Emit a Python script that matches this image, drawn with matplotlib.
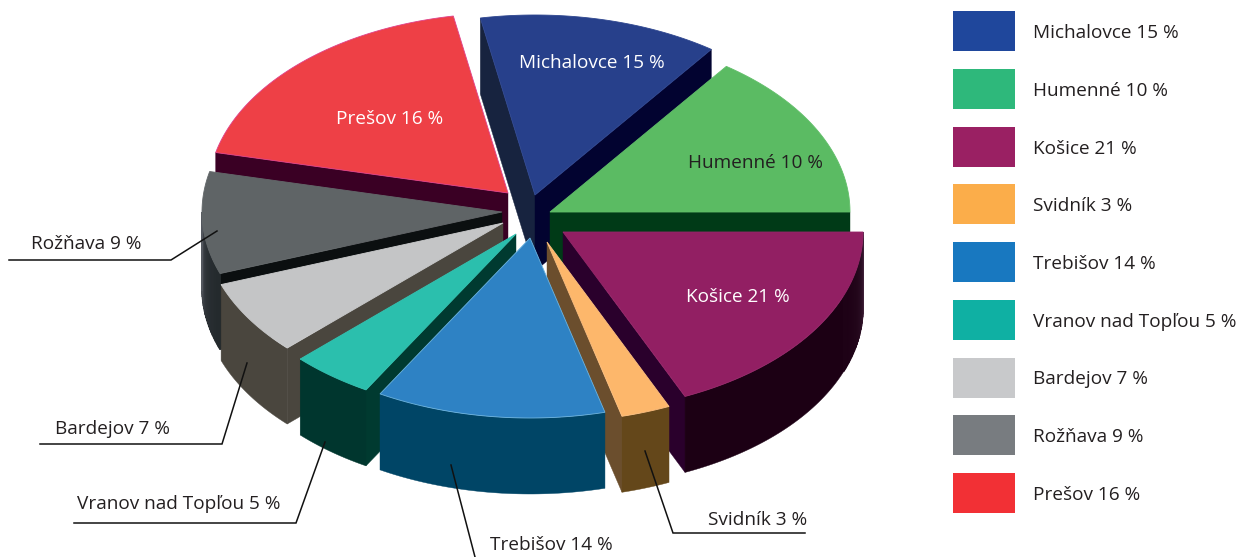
import matplotlib
matplotlib.use('Agg')
import matplotlib.pyplot as plt
from matplotlib.colors import to_rgb
import numpy as np

plt.rcParams['font.family'] = ['Open Sans', 'DejaVu Sans']

# data
names = ['Michalovce', 'Humenné', 'Košice', 'Svidník', 'Trebišov',
         'Vranov nad Topľou', 'Bardejov', 'Rožňava', 'Prešov']
shares = [15, 10, 21, 3, 14, 5, 7, 9, 16]

# colours
legend_colors = ['#1f479c', '#2eb87b', '#9a2063', '#fbad4a', '#1878c0',
                 '#0fb0a3', '#c8c9cb', '#787c80', '#f23035']
top_colors = ['#27408b', '#5bbb63', '#921f63', '#fdb76b', '#2e82c4',
              '#2bbfad', '#c4c5c6', '#5f6466', '#ee4046']
start_walls = ['#17233f', '#003a17', '#2a002c', '#6b4e2d', '#004566',
               '#003a30', '#4a463e', '#0b0f10', '#3a0024']
end_walls = ['#020330', '#003a17', '#2a002c', '#6b4e2d', '#004566',
             '#003a30', '#4a463e', '#0b0f10', '#3a0024']
outer_walls = ['#020330', '#003a17', '#1c0014', '#64471a', '#004566',
               '#00362e', '#4a463e', '#22282b', '#3a0024']
edge_colors = ['#2e468f', '#62bf6a', '#962669', '#fdc080', '#6db4e0',
               '#33c3b2', '#cbcccd', '#63686a', '#e0408a']

# layout, pixels
apex_x = [535, 550, 563, 547, 530, 516, 503, 502, 508]
apex_y = [195, 212, 232, 242, 238, 234, 223, 212, 193]
draw_order = [8, 0, 1, 7, 6, 5, 2, 3, 4]
rx, ry, depth = 300, 180, 76
start_angle = -10.5
# the original's perspective squeezes the angles a bit
warp_in = [-10.5, 43.5, 79.5, 155.1, 216.3, 234.3, 259.5, 291.9, 349.5]
warp_out = [-10.5, 36, 90, 156, 210, 226, 250, 283, 349.5]
font = 13.7


def rim(i, t):
    t = np.radians(t)
    return apex_x[i] + rx*np.sin(t), apex_y[i] - ry*np.cos(t)


def lighter(c, w):
    c = np.array(to_rgb(c))
    return tuple(c + (np.array([0.35, 0.33, 0.36]))*w)


def wall_visible(i, t, sign):
    # radial wall shows when its outward normal points down the page
    x, y = rim(i, t)
    return sign*(x - apex_x[i]) > 0


def radial_wall(ax, i, t, color, z):
    x, y = rim(i, t)
    xs = [apex_x[i], x, x, apex_x[i]]
    ys = [apex_y[i], y, y+depth, apex_y[i]+depth]
    ax.fill(xs, ys, color=color, lw=0.3, zorder=z)


fig = plt.figure(figsize=(12.38, 5.57), dpi=100)
ax = fig.add_axes([0, 0, 1, 1])
ax.set_xlim(0, 1238)
ax.set_ylim(557, 0)
ax.axis('off')

bounds = start_angle + np.cumsum([0] + shares)*3.6
bounds = np.interp(bounds, warp_in, warp_out)

z = 1
for i in draw_order:
    t0, t1 = bounds[i], bounds[i+1]

    # flat side faces
    if wall_visible(i, t0, -1):
        radial_wall(ax, i, t0, start_walls[i], z)
    if wall_visible(i, t1, 1):
        radial_wall(ax, i, t1, end_walls[i], z)
    z += 1

    # curved outer wall, only the front half of the rim
    a0, a1 = max(t0, 90), min(t1, 270)
    if a1 > a0:
        steps = np.linspace(a0, a1, int(a1-a0) + 2)
        x, y = rim(i, steps)
        ax.fill(np.r_[x, x[::-1]], np.r_[y, y[::-1]+depth],
                color=outer_walls[i], lw=0.3, zorder=z)
        z += 1
        # the two dark slices catch some light where the rim turns away
        if i in (2, 7):
            for s0, s1 in zip(steps[:-1], steps[1:]):
                mid = (s0+s1)/2
                w = np.exp(-min(abs(mid-90), abs(mid-270))/6.0)*0.6
                if w < 0.02:
                    continue
                x0, y0 = rim(i, s0)
                x1, y1 = rim(i, s1)
                ax.fill([x0, x1, x1, x0], [y0, y1, y1+depth, y0+depth],
                        color=lighter(outer_walls[i], w), lw=1, zorder=z)
            z += 1

    # top face
    arc = np.linspace(t0, t1, 120)
    x, y = rim(i, arc)
    ax.fill(np.r_[apex_x[i], x], np.r_[apex_y[i], y], facecolor=top_colors[i],
            edgecolor=edge_colors[i], lw=0.6, joinstyle='miter', zorder=z)
    z += 1

# text on the slices
z_text = z + 1
ax.text(592, 63, f'{names[0]} {shares[0]} %', color='white', fontsize=font,
        ha='center', va='center', zorder=z_text)
ax.text(390, 119, f'{names[8]} {shares[8]} %', color='white', fontsize=font,
        ha='center', va='center', zorder=z_text)
ax.text(756, 163, f'{names[1]} {shares[1]} %', color='#231f20', fontsize=font,
        ha='center', va='center', zorder=z_text)
ax.text(738, 297, f'{names[2]} {shares[2]} %', color='white', fontsize=font,
        ha='center', va='center', zorder=z_text)

# callouts: index, text x, text y, leader line
callouts = [
    (7, 31, 244, [(9, 260), (171, 260), (217, 231)]),
    (6, 55, 429, [(40, 444), (222, 444), (247, 363)]),
    (5, 77, 504, [(74, 523), (296, 523), (325, 442)]),
    (3, 708, 520, [(805, 533), (673, 533), (645, 451)]),
    (4, 490, 545, [(451, 465), (475, 557)]),
]
for i, tx, ty, line in callouts:
    ax.text(tx, ty, f'{names[i]} {shares[i]} %', color='#231f20', fontsize=font,
            ha='left', va='center', zorder=z_text)
    lx, ly = zip(*line)
    ax.plot(lx, ly, color='#111111', lw=1.1, zorder=z_text,
            solid_joinstyle='miter', clip_on=False)

# legend
for i in range(len(names)):
    top = 11 + i*57.75
    ax.fill([953, 1015, 1015, 953], [top, top, top+40, top+40],
            color=legend_colors[i], lw=0, zorder=z_text)
    ax.text(1033, top+22, f'{names[i]} {shares[i]} %', color='#231f20',
            fontsize=font, ha='left', va='center', zorder=z_text)

fig.savefig('out.png', dpi=100, facecolor='white')
